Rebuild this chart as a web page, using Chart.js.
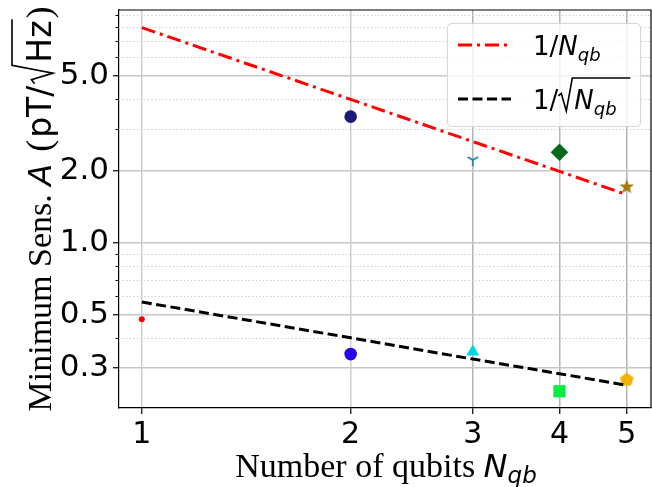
<!DOCTYPE html>
<html>
<head>
<meta charset="utf-8">
<script src="https://cdn.jsdelivr.net/npm/chart.js@4.4.1/dist/chart.umd.min.js"></script>
<style>
html,body{margin:0;padding:0;background:#fff;overflow:hidden}
#wrap{width:652px;height:487px;overflow:hidden}
canvas{display:block}
</style>
</head>
<body>
<div id="wrap"><canvas id="c" width="660" height="487"></canvas></div>
<script>
const xTicks = [1, 2, 3, 4, 5];
const yTicks = [0.3, 0.5, 1, 2, 5];
const yTickLabels = ['0.3', '0.5', '1.0', '2.0', '5.0'];
const yMinor = [0.4, 0.6, 0.7, 0.8, 0.9, 3, 4, 6, 7, 8, 9];
const nQubits = [1, 2, 3, 4, 5];
const lineInv = [7.95, 3.98, 2.65, 1.99, 1.59];        // 1/N_qb
const lineInvSqrt = [0.565, 0.40, 0.326, 0.283, 0.253]; // 1/sqrt(N_qb)
const lowerX = [1, 2, 3, 4, 5];
const lowerY = [0.478, 0.342, 0.35, 0.239, 0.268];
const upperX = [2, 3, 4, 5];
const upperY = [3.37, 2.22, 2.39, 1.72];

const SERIF = "'Liberation Serif', 'Times New Roman', serif";
const SANS = "'DejaVu Sans', sans-serif";

function marker(size, draw){
  const c = document.createElement('canvas');
  c.width = size; c.height = size;
  draw(c.getContext('2d'), size/2, size/2);
  return c;
}
function polyStar(g, cx, cy, n, ro, ri){
  g.beginPath();
  const steps = ri ? n*2 : n;
  for(let k=0;k<steps;k++){
    const r = (ri && k%2) ? ri : ro;
    const a = -Math.PI/2 + k*Math.PI*2/steps;
    g.lineTo(cx + r*Math.cos(a), cy + r*Math.sin(a));
  }
  g.closePath();
}
const pentagon = marker(16, (g,cx,cy)=>{ polyStar(g,cx,cy+0.5,5,7.2); g.fillStyle='#f2b200'; g.fill(); });
const star = marker(18, (g,cx,cy)=>{ polyStar(g,cx,cy+0.5,5,7.8,3.2); g.fillStyle='#a67a0c'; g.fill(); });
const triDown = marker(16, (g,cx,cy)=>{
  g.strokeStyle='#1b8a95'; g.lineWidth=1.8; g.beginPath();
  g.moveTo(cx,cy); g.lineTo(cx,cy+6);
  g.moveTo(cx,cy); g.lineTo(cx-5.2,cy-3);
  g.moveTo(cx,cy); g.lineTo(cx+5.2,cy-3);
  g.stroke();
});

const pts = (xs, ys) => xs.map((x,i)=>({x, y: ys[i]}));

// minor grid, minor ticks, top/right frame
const framePlugin = {
  id: 'frame',
  beforeDatasetsDraw(chart){
    const {ctx, chartArea:a, scales:{y}} = chart;
    ctx.save();
    ctx.strokeStyle = '#c4c4c4'; ctx.lineWidth = 1; ctx.setLineDash([1.2, 2.4]);
    yMinor.forEach(v=>{
      const py = Math.round(y.getPixelForValue(v)) + 0.5;
      ctx.beginPath(); ctx.moveTo(a.left, py); ctx.lineTo(a.right, py); ctx.stroke();
    });
    ctx.setLineDash([]); ctx.strokeStyle = '#000'; ctx.lineWidth = 1;
    yMinor.forEach(v=>{
      const py = Math.round(y.getPixelForValue(v)) + 0.5;
      ctx.beginPath(); ctx.moveTo(a.left - 3.5, py); ctx.lineTo(a.left, py); ctx.stroke();
    });
    ctx.restore();
  },
  afterDraw(chart){
    const {ctx, chartArea:a} = chart;
    ctx.save();
    ctx.strokeStyle = '#000'; ctx.lineWidth = 1.2;
    ctx.beginPath(); ctx.moveTo(a.left, a.top); ctx.lineTo(a.right, a.top); ctx.lineTo(a.right, a.bottom); ctx.stroke();
    ctx.restore();
  }
};

function drawParts(ctx, parts, x, y){
  parts.forEach(p=>{
    ctx.font = p.f || ctx.font;
    if(p.gap) { x += p.gap; }
    if(p.t) { ctx.fillText(p.t, x, y + (p.dy||0)); x += ctx.measureText(p.t).width; }
    if(p.sqrt){
      // radical sign + overline over the following parts
      const adv = p.adv || 16, k = adv/16;
      ctx.save(); ctx.lineWidth = 1.6; ctx.strokeStyle = '#000';
      ctx.beginPath();
      ctx.moveTo(x, y - p.h*0.42); ctx.lineTo(x + 3*k, y - p.h*0.5);
      ctx.lineTo(x + 8*k, y + 2); ctx.lineTo(x + 14*k, y - p.h);
      ctx.lineTo(x + 14*k + p.w, y - p.h);
      ctx.stroke(); ctx.restore();
      x += adv;
    }
  });
  return x;
}
function partsWidth(ctx, parts){
  let w = 0;
  parts.forEach(p=>{ if(p.f) ctx.font = p.f; if(p.gap) w += p.gap; if(p.t) w += ctx.measureText(p.t).width; if(p.sqrt) w += (p.adv||16); });
  return w;
}

const textPlugin = {
  id: 'texts',
  afterDraw(chart){
    const {ctx, chartArea:a} = chart;
    ctx.save();
    ctx.fillStyle = '#000'; ctx.textBaseline = 'alphabetic'; ctx.textAlign = 'left';

    // x title
    const xParts = [
      {t:'Number of qubits ', f:'34px '+SERIF},
      {t:'N', f:'italic 32px '+SANS},
      {t:'qb', f:'italic 23px '+SANS, dy:6}
    ];
    const xw = partsWidth(ctx, xParts);
    drawParts(ctx, xParts, 386 - xw/2, 477);

    // y title (rotated), centred on the plot height
    ctx.save();
    ctx.translate(51, 0); ctx.rotate(-Math.PI/2);
    const yParts = [
      {t:'Minimum Sens. ', f:'34px '+SERIF},
      {t:'A', f:'italic 32px '+SANS},
      {gap:12, t:'(', f:'36px '+SERIF},
      {gap:2, t:'pT/', f:'33px '+SANS},
      {gap:2, sqrt:true, h:39, w:46, adv:21},
      {t:'Hz', f:'33px '+SANS},
      {gap:2, t:')', f:'36px '+SERIF}
    ];
    const yw = partsWidth(ctx, yParts);
    drawParts(ctx, yParts, -((a.top + a.bottom)/2 + yw/2), 0);
    ctx.restore();

    // legend
    const lx = 447, ly = 23, lw = 193, lh = 103;
    ctx.save();
    ctx.beginPath(); ctx.roundRect(lx+0.5, ly+0.5, lw, lh, 4);
    ctx.fillStyle = 'rgba(255,255,255,0.8)'; ctx.fill();
    ctx.strokeStyle = '#d6d6d6'; ctx.lineWidth = 1; ctx.stroke();
    ctx.restore();
    const rows = [
      {y:45, color:'#ff0000', dash:[14,5,3,5], parts:[
        {t:'1/', f:'26px '+SANS}, {t:'N', f:'italic 26px '+SANS}, {t:'qb', f:'italic 18px '+SANS, dy:6}]},
      {y:99, color:'#000', dash:[10,4.5], parts:[
        {t:'1/', f:'26px '+SANS}, {sqrt:true, h:31, w:58}, {t:'N', f:'italic 26px '+SANS}, {t:'qb', f:'italic 18px '+SANS, dy:6}]}
    ];
    rows.forEach(r=>{
      ctx.save();
      ctx.strokeStyle = r.color; ctx.lineWidth = 3; ctx.setLineDash(r.dash);
      ctx.beginPath(); ctx.moveTo(458, r.y); ctx.lineTo(511, r.y); ctx.stroke();
      ctx.restore();
      drawParts(ctx, r.parts, 533, r.y + 10);
    });
    ctx.restore();
  }
};

new Chart(document.getElementById('c'), {
  type: 'scatter',
  data: {
    datasets: [
      {data: pts(nQubits, lineInv), showLine: true, borderColor: '#ff0000', borderWidth: 3,
       borderDash: [14,5,3,5], pointRadius: 0, fill: false},
      {data: pts(nQubits, lineInvSqrt), showLine: true, borderColor: '#000', borderWidth: 3,
       borderDash: [10,4.5], pointRadius: 0, fill: false},
      {data: pts(lowerX, lowerY), showLine: false,
       pointStyle: ['circle', 'circle', 'triangle', 'rect', pentagon],
       pointRadius: [3, 6.3, 7.5, 8.6, 8],
       pointBackgroundColor: ['#ff0000', '#2a00ee', '#00d5e6', '#00ee44', '#f2b200'],
       pointBorderWidth: 0, pointBorderColor: 'transparent'},
      {data: pts(upperX, upperY), showLine: false,
       pointStyle: ['circle', triDown, 'rectRot', star],
       pointRadius: [6.3, 8, 8.8, 9],
       pointBackgroundColor: ['#1a1a78', '#1b8a95', '#05691b', '#a67a0c'],
       pointBorderWidth: 0, pointBorderColor: 'transparent'}
    ]
  },
  options: {
    responsive: false,
    animation: false,
    devicePixelRatio: 1,
    layout: {padding: {left: 0, top: 10, right: 6, bottom: 0}},
    plugins: {legend: {display: false}, tooltip: {enabled: false}},
    scales: {
      x: {
        type: 'logarithmic', min: 0.927, max: 5.42,
        afterBuildTicks: s => { s.ticks = xTicks.map(v=>({value: v})); },
        afterFit: s => { s.height = 79; s.paddingLeft = 0; s.paddingRight = 0; },
        ticks: {font: {family: 'DejaVu Sans', size: 30}, color: '#000', padding: 3,
                maxRotation: 0, autoSkip: false, callback: v => String(v)},
        grid: {color: c => (c.tick && c.tick.value >= 3) ? '#b4b4b4' : '#d0d0d0', lineWidth: 1.5,
               tickLength: 6, tickColor: '#000', tickWidth: 1.2},
        border: {color: '#000', width: 1.2}
      },
      y: {
        type: 'logarithmic', min: 0.2034, max: 9.42,
        afterBuildTicks: s => { s.ticks = yTicks.map(v=>({value: v})); },
        afterFit: s => { s.width = 119; s.paddingTop = 0; s.paddingBottom = 0; },
        ticks: {font: {family: 'DejaVu Sans', size: 31}, color: '#000', padding: 4,
                autoSkip: false, callback: v => yTickLabels[yTicks.indexOf(v)]},
        grid: {color: '#c8c8c8', lineWidth: 1.5, tickLength: 6, tickColor: '#000', tickWidth: 1.2},
        border: {color: '#000', width: 1.2}
      }
    }
  },
  plugins: [framePlugin, textPlugin]
});
</script>
</body>
</html>
